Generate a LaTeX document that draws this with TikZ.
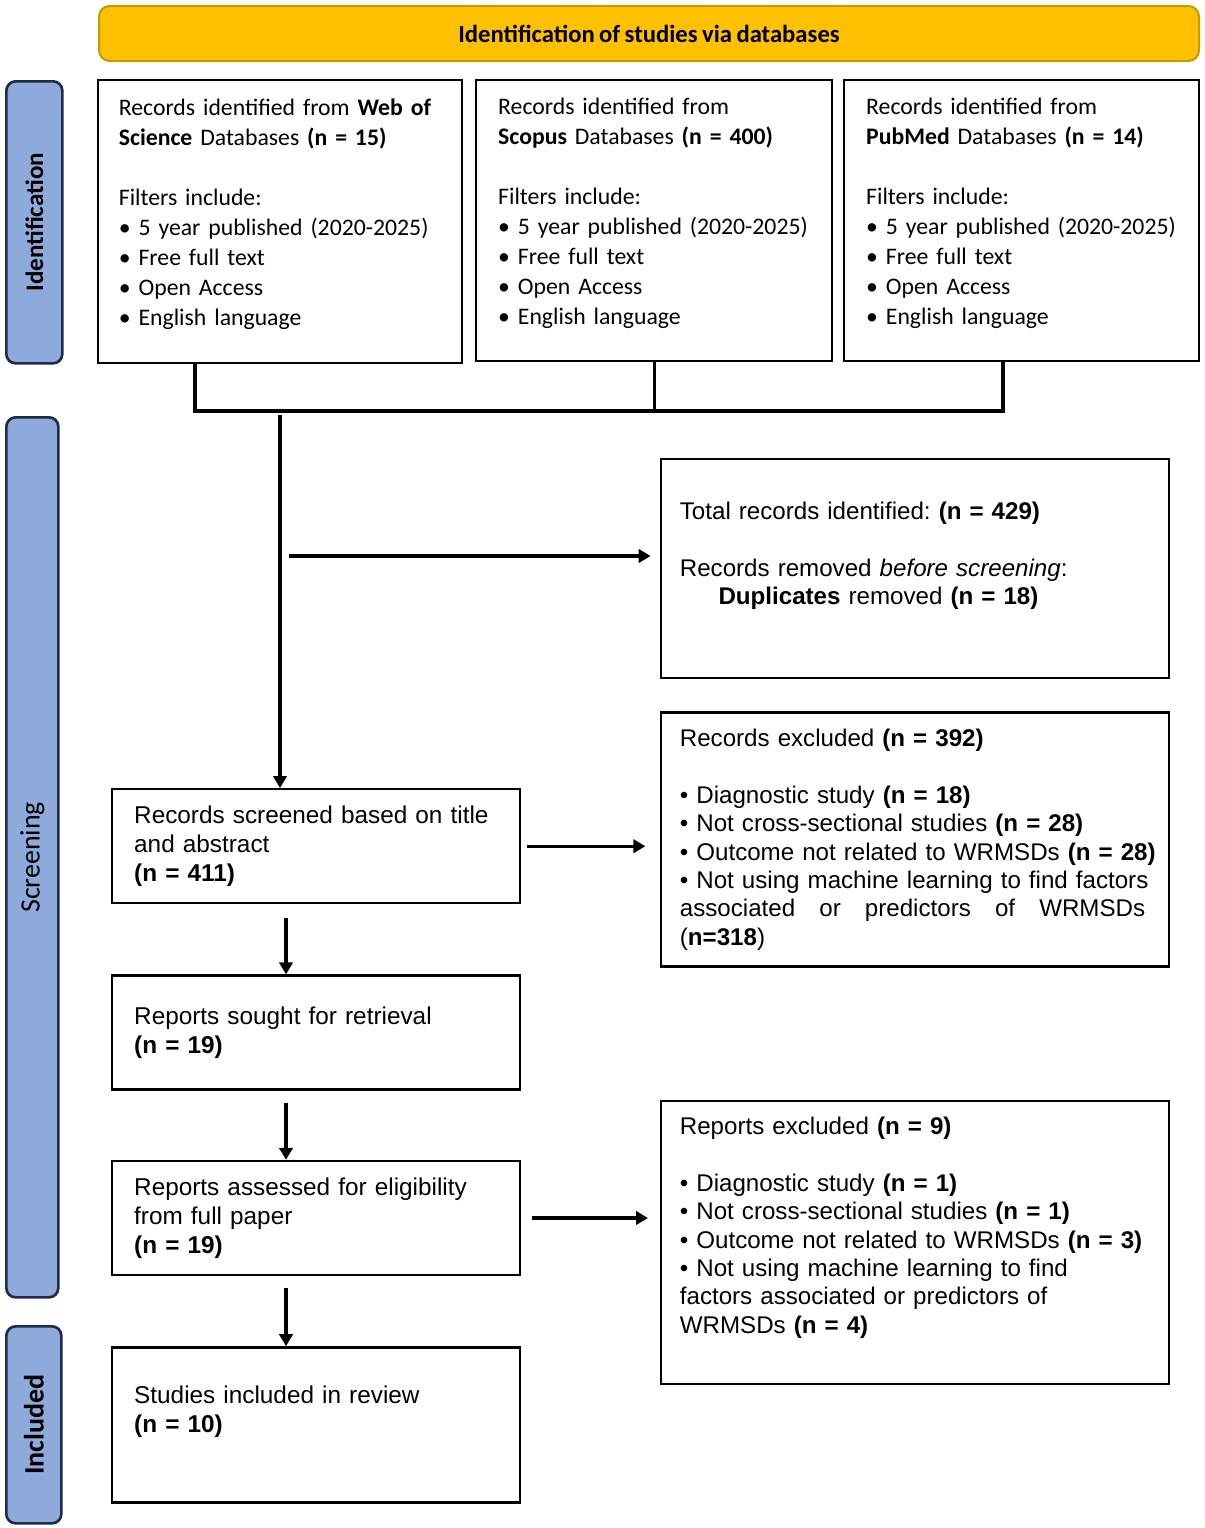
\documentclass[tikz,border=0pt]{standalone}
\usepackage{graphicx}
\usepackage{fontspec}
\setmainfont{Liberation Sans}
\newfontfamily\carlito[WordSpace=0.8]{Carlito}
\frenchspacing
\usetikzlibrary{arrows.meta,positioning}
\definecolor{headgold}{HTML}{FFC000}
\definecolor{headline}{HTML}{C49A00}
\definecolor{phaseblue}{HTML}{8EAADB}
\definecolor{phaseline}{HTML}{1F2B47}
\newcommand*{\nn}[1]{\textbf{(n = #1)}}
\newcommand*{\dbfont}{\carlito\fontsize{17.8pt}{22.5pt}\selectfont}
\newcommand*{\flowfont}{\fontsize{18.25pt}{21.75pt}\selectfont}
\newcommand*{\sidefont}{\fontsize{18.1pt}{21.3pt}\selectfont}

\begin{document}
\begin{tikzpicture}[x=0.75pt,y=-0.75pt,
    header/.style={
      draw=headline,fill=headgold,line width=1.5pt,
      rounded corners=8pt,anchor=north west,
      font=\carlito\fontsize{18.5pt}{22pt}\selectfont\bfseries
    },
    phase/.style={
      draw=phaseline,fill=phaseblue,line width=2pt,
      rounded corners=7pt,anchor=north west,
      font=\carlito\fontsize{18.8pt}{22pt}\selectfont
    },
    dbbox/.style={
      draw,line width=1.8pt,anchor=north west,
      align=left,inner xsep=16.5pt,font=\dbfont
    },
    flow/.style={
      draw,line width=1.8pt,anchor=north west,
      align=left,inner xsep=16.5pt,text width=273pt,
      minimum height=85.5pt,font=\flowfont
    },
    excl/.style={
      draw,line width=1.8pt,anchor=north west,
      align=left,inner xsep=14pt,text width=353pt,font=\sidefont
    },
    arr/.style={line width=2.4pt,-{Triangle[length=9pt,width=10pt]}},
    bus/.style={line width=2.4pt},
  ]
  \useasboundingbox (0,0) rectangle (1205,1528);

  % header and phases
  \node[header,minimum width=825pt,minimum height=41.25pt] (head) at (98,5)
    {Identification of studies via databases};
  \node[phase,minimum width=42pt,minimum height=211.5pt] (idbar) at (5,80)
    {\rotatebox{90}{\bfseries Identification}};
  \node[phase,minimum width=39pt,minimum height=660pt] (scrbar) at (5,416)
    {\rotatebox{90}{\fontsize{21pt}{24pt}\selectfont Screening}};
  \node[phase,minimum width=41.25pt,minimum height=147.75pt] (incbar) at (5,1325)
    {\rotatebox{90}{\fontsize{21pt}{24pt}\selectfont\bfseries Included}};

  % databases
  \node[dbbox,inner xsep=15.5pt,text width=242pt,minimum height=212.25pt] (wos) at (97,79) {
    Records identified from \textbf{Web of}\\
    \textbf{Science} Databases \nn{15}\\[22.5pt]
    Filters include:\\
    \textbullet\ 5 year published (2020-2025)\\
    \textbullet\ Free full text\\
    \textbullet\ Open Access\\
    \textbullet\ English language\\[-8pt]\mbox{}
  };
  \node[dbbox,text width=234pt,minimum height=210.75pt] (scopus) at (475,79) {
    Records identified from\\
    \textbf{Scopus} Databases \nn{400}\\[22.5pt]
    Filters include:\\
    \textbullet\ 5 year published (2020-2025)\\
    \textbullet\ Free full text\\
    \textbullet\ Open Access\\
    \textbullet\ English language\\[-8pt]\mbox{}
  };
  \node[dbbox,text width=233.25pt,minimum height=210.75pt] (pubmed) at (843,79) {
    Records identified from\\
    \textbf{PubMed} Databases \nn{14}\\[22.5pt]
    Filters include:\\
    \textbullet\ 5 year published (2020-2025)\\
    \textbullet\ Free full text\\
    \textbullet\ Open Access\\
    \textbullet\ English language\\[-8pt]\mbox{}
  };

  % screening column
  \node[flow] (screened) at (111,788) {
    Records screened based on title\\
    and abstract\\
    \nn{411}
  };
  \node[flow,below=52.5pt of screened] (sought) {
    Reports sought for retrieval\\
    \nn{19}
  };
  \node[flow,below=51.75pt of sought] (assessed) {
    Reports assessed for eligibility\\
    from full paper\\
    \nn{19}
  };
  \node[flow,minimum height=116.25pt,below=52.5pt of assessed] (included) {
    Studies included in review\\
    \nn{10}\\[2pt]\mbox{}
  };

  % removed and excluded
  \node[excl,minimum height=164.25pt] (total) at (660,458) {
    Total records identified: \nn{429}\\[21.3pt]
    Records removed \textit{before screening}:\\
    \hspace*{29pt}\textbf{Duplicates} removed \nn{18}\\[2pt]\mbox{}
  };
  \node[excl,minimum height=190.5pt,below=24pt of total] (excluded) {
    Records excluded \nn{392}\\[21.3pt]
    \textbullet\ Diagnostic study \nn{18}\\
    \textbullet\ Not cross-sectional studies \nn{28}\\
    \mbox{\textbullet\ Outcome not related to WRMSDs \nn{28}}\\
    \mbox{\textbullet\ Not using machine learning to find factors}\\
    \mbox{\hbox to 349pt{associated\hfill or\hfill predictors\hfill of\hfill WRMSDs}}\\
    (\textbf{n=318})
  };
  \node[excl,minimum height=212.25pt] (repexcl) at (660,1100) {
    Reports excluded \nn{9}\\[21.3pt]
    \textbullet\ Diagnostic study \nn{1}\\
    \textbullet\ Not cross-sectional studies \nn{1}\\
    \mbox{\textbullet\ Outcome not related to WRMSDs \nn{3}}\\
    \textbullet\ Not using machine learning to find\\
    factors associated or predictors of\\
    WRMSDs \nn{4}\\[5pt]\mbox{}
  };

  % connectors
  \coordinate (busL) at (195,411);
  \coordinate (busR) at (1003,411);
  \coordinate (drop) at (280,411);
  \coordinate (split) at (289,556);
  \coordinate (col) at (286,0);

  \draw[bus] (wos.south -| busL) -- (busL) -- (busR) -- (pubmed.south -| busR);
  \draw[bus] (scopus.south) -- (scopus.south |- busL);
  \draw[arr,shorten <=3pt] (drop) -- (screened.north -| drop);
  \draw[arr,shorten >=7pt] (split) -- (split -| total.west);
  \draw[arr,shorten <=4.5pt,shorten >=11pt] (screened.east) -- (screened.east -| excluded.west);
  \draw[arr,shorten <=10pt] (screened.south -| col) -- (sought.north -| col);
  \draw[arr,shorten <=9pt] (sought.south -| col) -- (assessed.north -| col);
  \draw[arr,shorten <=9pt] (assessed.south -| col) -- (included.north -| col);
  \draw[arr,shorten <=8pt,shorten >=9pt] (assessed.east) -- (assessed.east -| repexcl.west);
\end{tikzpicture}
\end{document}
